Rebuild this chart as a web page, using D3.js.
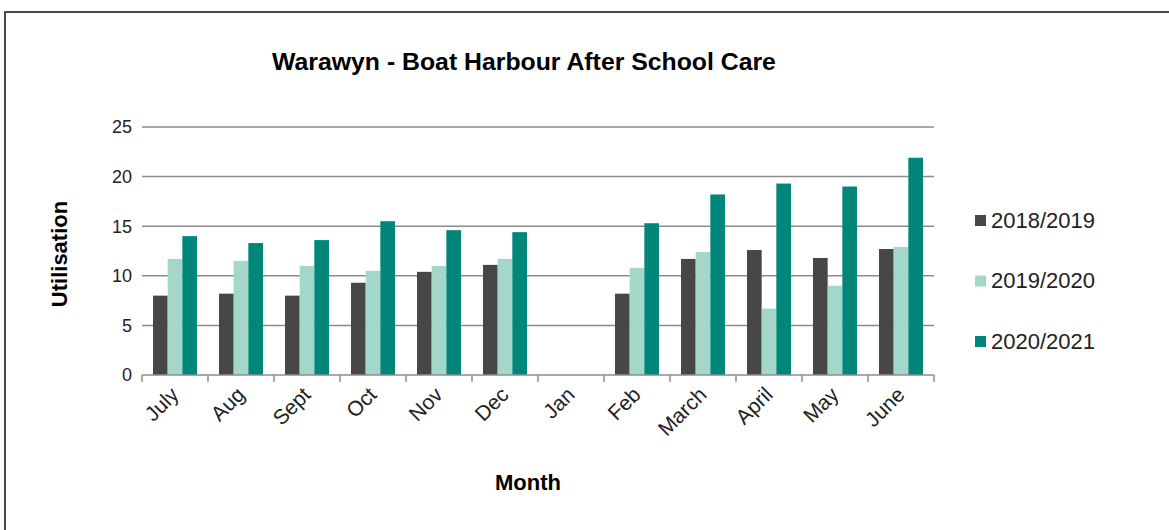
<!DOCTYPE html>
<html>
<head>
<meta charset="utf-8">
<script src="https://cdn.jsdelivr.net/npm/d3@7"></script>
<style>
  body { margin: 0; background: #fff; }
  svg { display: block; font-family: "Liberation Sans", Arial, sans-serif; }
</style>
</head>
<body>
<div id="chart"></div>
<script>
const months = ["July", "Aug", "Sept", "Oct", "Nov", "Dec", "Jan", "Feb", "March", "April", "May", "June"]
const seriesNames = ["2018/2019", "2019/2020", "2020/2021"]
const s2018 = [8.0, 8.2, 8.0, 9.3, 10.4, 11.1, null, 8.2, 11.7, 12.6, 11.8, 12.7]
const s2019 = [11.7, 11.5, 11.0, 10.5, 11.0, 11.7, null, 10.8, 12.4, 6.7, 9.0, 12.9]
const s2020 = [14.0, 13.3, 13.6, 15.5, 14.6, 14.4, null, 15.3, 18.2, 19.3, 19.0, 21.9]
const yTicks = [0, 5, 10, 15, 20, 25]
const colors = ["#474747", "#a3d7ca", "#00877a"]

const svgWidth = 1169, svgHeight = 530
const margin = {left: 142, top: 127, right: 235, bottom: 155}
const width = svgWidth - margin.left - margin.right
const height = svgHeight - margin.top - margin.bottom

const svg = d3.select('#chart')
    .append('svg')
    .attr('width', svgWidth)
    .attr('height', svgHeight)

// outer frame (only top and left edges show in the picture)
svg.append('path')
    .attr('d', `M5,${svgHeight + 5} V12 H${svgWidth + 5}`)
    .attr('fill', 'none')
    .attr('stroke', '#4a4a4a')
    .attr('stroke-width', 2)

svg.append('text')
    .attr('x', 524)
    .attr('y', 70)
    .attr('text-anchor', 'middle')
    .style('font-weight', 'bold')
    .style('font-size', '24.8px')
    .text('Warawyn - Boat Harbour After School Care')

const g = svg.append('g')
    .attr('transform', `translate(${margin.left},${margin.top})`)

const xScale = d3.scaleBand()
    .domain(months)
    .range([0, width])

const barW = xScale.bandwidth() / 4.5
const xInner = d3.scaleBand()
    .domain(seriesNames)
    .range([barW * 0.75, barW * 3.75])

const yScale = d3.scaleLinear()
    .domain([0, 25])
    .range([height, 0])

// gridlines
g.append('g')
    .selectAll('line')
    .data(yTicks.filter(d => d > 0))
    .join('line')
    .attr('x1', 0)
    .attr('x2', width)
    .attr('y1', d => yScale(d))
    .attr('y2', d => yScale(d))
    .attr('stroke', '#8c8c8c')
    .attr('stroke-width', 1.5)

// y tick labels
g.append('g')
    .selectAll('text')
    .data(yTicks)
    .join('text')
    .attr('x', -10)
    .attr('y', d => yScale(d))
    .attr('dy', '0.35em')
    .attr('text-anchor', 'end')
    .style('font-size', '18px')
    .attr('fill', '#222')
    .text(d => d)

const tableData = seriesNames.map((name, i) => ({name, values: [s2018, s2019, s2020][i]}))

const groups = g.append('g')
    .selectAll('g')
    .data(tableData)
    .join('g')
    .attr('fill', (d, i) => colors[i])

groups.selectAll('rect')
    .data(d => d.values.map((v, j) => ({name: d.name, month: months[j], value: v})).filter(d => d.value != null))
    .join('rect')
    .attr('x', d => xScale(d.month) + xInner(d.name))
    .attr('width', xInner.bandwidth())
    .attr('y', d => yScale(d.value))
    .attr('height', d => height - yScale(d.value))

// x axis line and ticks between categories
const xAxis = g.append('g')
    .attr('transform', `translate(0,${height})`)

xAxis.append('line')
    .attr('x1', 0)
    .attr('x2', width)
    .attr('stroke', '#8c8c8c')
    .attr('stroke-width', 1.5)

xAxis.selectAll('.tick')
    .data(d3.range(months.length + 1))
    .join('line')
    .attr('class', 'tick')
    .attr('x1', i => i * xScale.step())
    .attr('x2', i => i * xScale.step())
    .attr('y1', 0)
    .attr('y2', 7)
    .attr('stroke', '#8c8c8c')
    .attr('stroke-width', 1.5)

xAxis.selectAll('.label')
    .data(months)
    .join('text')
    .attr('class', 'label')
    .attr('text-anchor', 'end')
    .attr('transform', d => `translate(${xScale(d) + xScale.bandwidth() / 2 + 5},${21}) rotate(-45)`)
    .style('font-size', '21px')
    .attr('fill', '#222')
    .text(d => d)

g.append('text')
    .attr('x', width / 2 - 10)
    .attr('y', height + 115)
    .attr('text-anchor', 'middle')
    .style('font-weight', 'bold')
    .style('font-size', '22px')
    .text('Month')

g.append('text')
    .attr('transform', `translate(${-75},${height / 2 + 3}) rotate(-90)`)
    .attr('text-anchor', 'middle')
    .style('font-weight', 'bold')
    .style('font-size', '22px')
    .text('Utilisation')

// legend
const legend = svg.append('g')
    .selectAll('g')
    .data(seriesNames)
    .join('g')
    .attr('transform', (d, i) => `translate(975,${220 + i * 60.5})`)

legend.append('rect')
    .attr('x', 0)
    .attr('y', -5)
    .attr('width', 11)
    .attr('height', 11)
    .attr('fill', (d, i) => colors[i])

legend.append('text')
    .attr('x', 16)
    .attr('y', 0)
    .attr('dy', '0.35em')
    .style('font-size', '22px')
    .attr('fill', '#222')
    .text(d => d)
</script>
</body>
</html>
